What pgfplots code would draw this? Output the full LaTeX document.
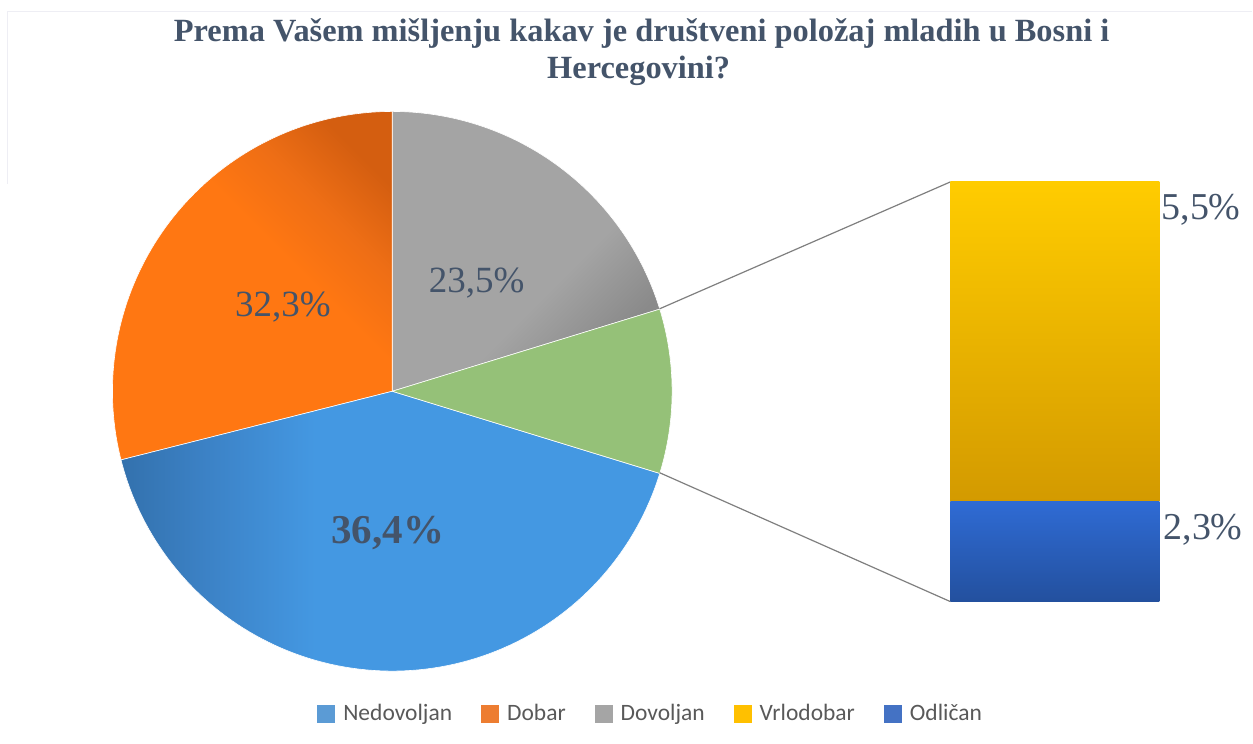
\documentclass[border=0pt]{standalone}
\usepackage{pgfplots}
\pgfplotsset{compat=1.18}
\usepackage{fontspec}
\setmainfont{Liberation Serif}
\newfontfamily\legfont{Carlito}
\definecolor{titlecol}{HTML}{44546A}
\definecolor{legcol}{HTML}{595959}
\definecolor{cNed}{HTML}{5B9BD5}
\definecolor{cDob}{HTML}{ED7D31}
\definecolor{cDov}{HTML}{A5A5A5}
\definecolor{cVrl}{HTML}{FFC000}
\definecolor{cOdl}{HTML}{4472C4}
\definecolor{cGreen}{HTML}{95C178}
\definecolor{bl1}{HTML}{3371AD}
\definecolor{bl2}{HTML}{3C82C6}
\definecolor{bl3}{HTML}{4498E2}
\definecolor{or1}{HTML}{FF7712}
\definecolor{or2}{HTML}{EE6E15}
\definecolor{or3}{HTML}{D45E10}
\definecolor{gr1}{HTML}{8A8A8A}
\definecolor{gr2}{HTML}{A4A4A4}
\definecolor{ytop}{HTML}{FFCC00}
\definecolor{ybot}{HTML}{D39A00}
\definecolor{btop}{HTML}{2F6BD4}
\definecolor{bbot}{HTML}{23509E}
\definecolor{linecol}{HTML}{7F7F7F}
\definecolor{framecol}{HTML}{EEEEF4}
\pgfdeclarehorizontalshading{bluesh}{100bp}{color(0bp)=(bl1); color(25bp)=(bl1); color(33bp)=(bl2); color(43bp)=(bl3); color(100bp)=(bl3)}
\pgfdeclareverticalshading{orsh}{100bp}{color(0bp)=(or1); color(57bp)=(or1); color(67bp)=(or2); color(77bp)=(or3); color(100bp)=(or3)}
\pgfdeclareverticalshading{grsh}{100bp}{color(0bp)=(gr1); color(27bp)=(gr1); color(42bp)=(gr2); color(100bp)=(gr2)}
\pgfdeclareverticalshading{yelsh}{100bp}{color(0bp)=(ybot); color(25bp)=(ybot); color(75bp)=(ytop); color(100bp)=(ytop)}
\pgfdeclareverticalshading{bbsh}{100bp}{color(0bp)=(bbot); color(25bp)=(bbot); color(75bp)=(btop); color(100bp)=(btop)}
\begin{document}
\begin{tikzpicture}
\begin{axis}[
  scale only axis, width=1253bp, height=744bp,
  xmin=0, xmax=1253, ymin=0, ymax=744,
  axis lines=none, ticks=none, clip=false,
  legend columns=5,
  legend style={at={(axis cs:651,30)}, anchor=center, draw=none, fill=none,
    font=\legfont\fontsize{23.5bp}{27bp}\selectfont, text=legcol, inner sep=0pt,
    /tikz/every odd column/.append style={column sep=6bp},
    /tikz/every even column/.append style={column sep=27bp}},
  legend image code/.code={\fill[#1] (0bp,-9bp) rectangle (18bp,9bp);},
]
% fixed bounding box
\path (axis cs:0,0) rectangle (axis cs:1253,744);
% faint frame
\addplot[framecol, line width=1.5bp, forget plot] coordinates {(7.5,560) (7.5,732.5) (1253,732.5)};
% pie slices (angles in degrees, counter-clockwise)
% Dovoljan
\addplot[shade, shading=grsh, shading angle=45, draw=white, line width=0.6bp, domain=17.07:90, samples=60, forget plot]
  ({392.5+280*cos(x)},{352.5+280*sin(x)}) -- (axis cs:392.5,352.5) -- cycle;
% Dobar
\addplot[shade, shading=orsh, shading angle=-45, draw=white, line width=0.6bp, domain=90:194.2, samples=80, forget plot]
  ({392.5+280*cos(x)},{352.5+280*sin(x)}) -- (axis cs:392.5,352.5) -- cycle;
% Nedovoljan
\addplot[shade, shading=bluesh, draw=white, line width=0.6bp, domain=194.2:342.93, samples=100, forget plot]
  ({392.5+280*cos(x)},{352.5+280*sin(x)}) -- (axis cs:392.5,352.5) -- cycle;
% Other (Vrlodobar + Odlican)
\addplot[fill=cGreen, draw=white, line width=0.6bp, domain=-17.07:17.07, samples=40, forget plot]
  ({392.5+280*cos(x)},{352.5+280*sin(x)}) -- (axis cs:392.5,352.5) -- cycle;
% connector lines
\addplot[linecol, line width=1.2bp, forget plot] coordinates {(660,435) (951,562)};
\addplot[linecol, line width=1.2bp, forget plot] coordinates {(660,271) (951,142)};
% bar of pie
\addplot[shade, shading=yelsh, draw=none, forget plot] coordinates {(951,242) (1160,242) (1160,562) (951,562)} -- cycle;
\addplot[shade, shading=bbsh, draw=none, forget plot] coordinates {(951,142) (1160,142) (1160,242) (951,242)} -- cycle;
% labels
\node[text=titlecol, font=\fontsize{37bp}{40bp}\selectfont] at (axis cs:283,437) {32,3\%};
\node[text=titlecol, font=\fontsize{37bp}{40bp}\selectfont] at (axis cs:477,461) {23,5\%};
\node[text=titlecol, font=\bfseries\fontsize{41bp}{44bp}\selectfont] at (axis cs:388,211) {36,4\%};
\node[text=titlecol, font=\fontsize{38bp}{40bp}\selectfont, anchor=west, inner sep=0pt] at (axis cs:1162,534) {5,5\%};
\node[text=titlecol, font=\fontsize{38bp}{40bp}\selectfont, anchor=west, inner sep=0pt] at (axis cs:1164,214) {2,3\%};
% title
\node[text=titlecol, font=\bfseries\fontsize{32.4bp}{36bp}\selectfont, anchor=base] at (axis cs:642,702) {Prema Vašem mišljenju kakav je društveni položaj mladih u Bosni i};
\node[text=titlecol, font=\bfseries\fontsize{32.4bp}{36bp}\selectfont, anchor=base] at (axis cs:639,665) {Hercegovini?};
% legend
\addlegendimage{fill=cNed, draw=none}
\addlegendentry{Nedovoljan}
\addlegendimage{fill=cDob, draw=none}
\addlegendentry{Dobar}
\addlegendimage{fill=cDov, draw=none}
\addlegendentry{Dovoljan}
\addlegendimage{fill=cVrl, draw=none}
\addlegendentry{Vrlodobar}
\addlegendimage{fill=cOdl, draw=none}
\addlegendentry{Odličan}
\end{axis}
\end{tikzpicture}
\end{document}
